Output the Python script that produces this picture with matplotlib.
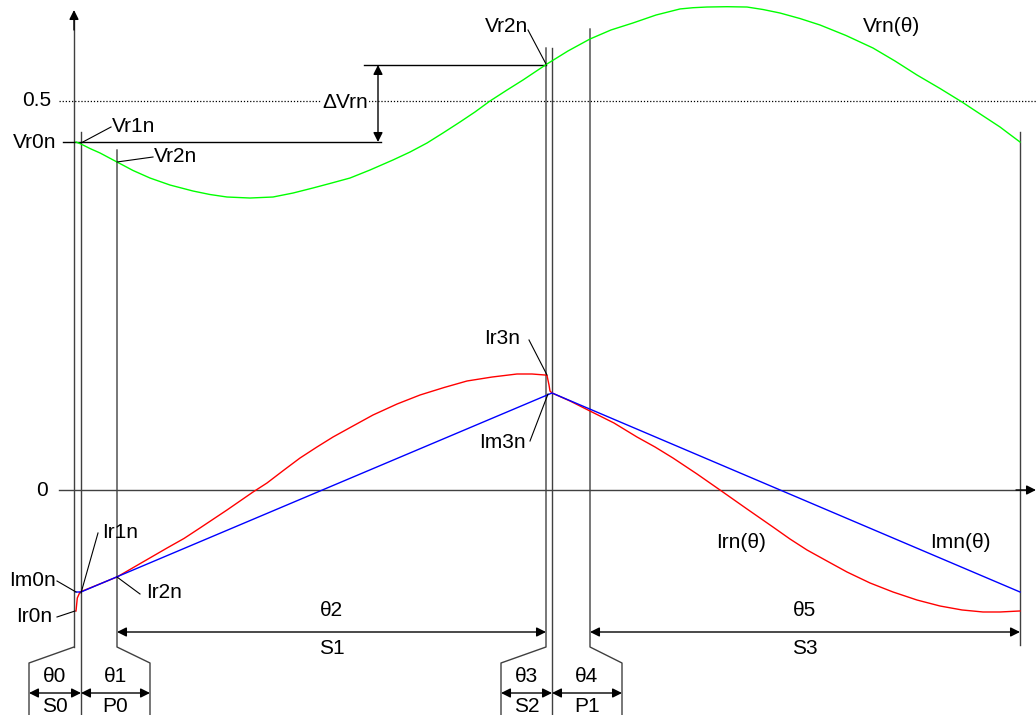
import matplotlib
matplotlib.use('Agg')
import matplotlib.pyplot as plt

plt.rcParams['font.family'] = ['Liberation Sans', 'DejaVu Sans']

# ---------------- data (theta position, per-unit values) ----------------
theta_v = [76, 81, 90, 100, 117, 133, 150, 170, 193, 210, 227, 250, 273, 293,
           313, 330, 350, 370, 393, 410, 427, 443, 460, 475, 490, 507, 523, 535,
           547, 568, 590, 611, 633, 656, 680, 693, 707, 727, 747, 763, 780, 800,
           820, 846, 873, 895, 917, 940, 962, 981, 1000, 1010, 1020]
vrn = [0.4473, 0.4447, 0.4389, 0.4332, 0.4216, 0.4107, 0.4010, 0.3920, 0.3843,
       0.3798, 0.3766, 0.3753, 0.3766, 0.3817, 0.3882, 0.3940, 0.4010, 0.4113,
       0.4242, 0.4344, 0.4460, 0.4589, 0.4730, 0.4859, 0.5000, 0.5141, 0.5270,
       0.5373, 0.5476, 0.5643, 0.5797, 0.5913, 0.6003, 0.6105, 0.6183, 0.6199,
       0.6208, 0.6212, 0.6208, 0.6176, 0.6131, 0.6060, 0.5977, 0.5842, 0.5681,
       0.5514, 0.5334, 0.5161, 0.4987, 0.4826, 0.4666, 0.4569, 0.4473]

theta_r = [76, 77.3, 80, 117, 142, 167, 184, 200, 227, 253, 267, 284, 300, 317,
           333, 353, 373, 397, 420, 444, 467, 492, 517, 532, 545, 547, 549, 550,
           552, 570, 590, 614, 637, 655, 673, 697, 720, 747, 773, 790, 807, 827,
           847, 870, 893, 917, 940, 962, 983, 1000, 1020]
irn = [-0.1555, -0.1388, -0.1311, -0.1118, -0.0932, -0.0746, -0.0623, -0.0488,
       -0.0257, -0.0026, 0.0090, 0.0257, 0.0411, 0.0553, 0.0681, 0.0823, 0.0964,
       0.1105, 0.1221, 0.1317, 0.1401, 0.1452, 0.1491, 0.1491, 0.1478, 0.1472,
       0.1350, 0.1272, 0.1247, 0.1144, 0.1015, 0.0861, 0.0681, 0.0553, 0.0411,
       0.0206, 0.0, -0.0244, -0.0476, -0.0630, -0.0771, -0.0913, -0.1054,
       -0.1195, -0.1311, -0.1414, -0.1491, -0.1542, -0.1568, -0.1568, -0.1555]

theta_m = [76, 81, 552, 1020]
imn = [-0.1311, -0.1311, 0.1247, -0.1311]

vr0n = 0.4473
vr_half = 0.5
vr2n_level = 0.5463

# theta boundaries
th_s0 = 74      # start S0 (vertical axis)
th_p0 = 81      # S0 / P0
th_s1 = 117     # P0 / S1
th_s2 = 546     # S1 / S2
th_p1 = 552     # S2 / P1
th_s3 = 590     # P1 / S3
th_end = 1020   # end S3

# ---------------- figure ----------------
W, H = 1036, 715
fig = plt.figure(figsize=(W / 100, H / 100), dpi=100)
ax = fig.add_axes([0, 0, 1, 1])
ax.set_xlim(0, W)


def Y(p):
    """layout helper: pixel row -> value units"""
    return (490 - p) / 778


ax.set_ylim(Y(H), Y(0))
ax.axis('off')

GRAY = '#404040'
FS = 15
LW = 1.0

# dotted 0.5 line
ax.plot([59, W], [vr_half, vr_half], color='black', lw=0.9, ls=(0, (1, 1.5)))

# axes lines with arrows
ax.plot([th_s0, th_s0], [Y(647), Y(20)], color=GRAY, lw=LW)
ax.annotate('', xy=(th_s0, Y(10)), xytext=(th_s0, Y(30)),
            arrowprops=dict(arrowstyle='-|>', color='black', lw=LW,
                            mutation_scale=14, shrinkA=0, shrinkB=0))
ax.plot([59, 1026], [0, 0], color=GRAY, lw=LW)
ax.annotate('', xy=(1036, 0), xytext=(1016, 0),
            arrowprops=dict(arrowstyle='-|>', color='black', lw=LW,
                            mutation_scale=14, shrinkA=0, shrinkB=0))

# vertical boundary lines (with bracket bends at bottom)
def vline(x, top, bend_to=None):
    if bend_to is None:
        ax.plot([x, x], [Y(top), Y(H)], color=GRAY, lw=LW)
    else:
        ax.plot([x, x, bend_to, bend_to], [Y(top), Y(647), Y(663), Y(H)],
                color=GRAY, lw=LW)

ax.plot([th_s0, 29, 29], [Y(647), Y(663), Y(H)], color=GRAY, lw=LW)
vline(th_p0, 132)
vline(th_s1, 150, 150)
vline(th_s2, 48, 501)
vline(th_p1, 48)
vline(th_s3, 29, 622)
ax.plot([th_end, th_end], [Y(132), Y(645)], color=GRAY, lw=LW)

# Vr0n level line and delta-Vrn dimension
ax.plot([63, 381], [vr0n, vr0n], color='black', lw=LW)
ax.plot([364, th_s2], [vr2n_level, vr2n_level], color='black', lw=LW)
ax.annotate('', xy=(378, vr0n), xytext=(378, vr2n_level),
            arrowprops=dict(arrowstyle='<|-|>', color='black', lw=LW,
                            mutation_scale=14, shrinkA=0, shrinkB=0))
ax.text(345, Y(102), 'ΔVrn', fontsize=FS, ha='center', va='center',
        bbox=dict(facecolor='white', edgecolor='none', pad=0.5))

# curves
ax.plot(theta_v, vrn, color='#00ff00', lw=1.0)
ax.plot(theta_r, irn, color='#ff0000', lw=1.0)
ax.plot(theta_m, imn, color='#0000ff', lw=1.0)

# y labels
ax.text(51, vr_half, '0.5', fontsize=FS, ha='right', va='center')
ax.text(56, vr0n, 'Vr0n', fontsize=FS, ha='right', va='center')
ax.text(48, 0, '0', fontsize=FS, ha='right', va='center')

# leader labels
def leader(text, tx, ty, lx, ly, px, py, ha='left'):
    ax.plot([lx, px], [Y(ly), Y(py)], color='black', lw=0.8)
    ax.text(tx, Y(ty), text, fontsize=FS, ha=ha, va='center')

leader('Vr1n', 112, 126, 111, 127, 81, 143)
leader('Vr2n', 154, 156, 153, 157, 117, 162)
leader('Vr2n', 528, 27, 528, 30, 546, 64, ha='right')
leader('Ir3n', 520, 338, 529, 340, 547, 375, ha='right')
leader('Im3n', 526, 443, 530, 441, 548, 394, ha='right')
leader('Ir1n', 102, 533, 98, 533, 81, 593)
leader('Im0n', 56, 581, 57, 581, 76, 592, ha='right')
leader('Ir0n', 52, 617, 57, 617, 75, 611, ha='right')
leader('Ir2n', 146, 593, 140, 594, 117, 577)

ax.text(892, Y(26), 'Vrn(θ)', fontsize=FS, ha='center', va='center')
ax.text(741, Y(542), 'Irn(θ)', fontsize=FS, ha='center', va='center')
ax.text(960, Y(542), 'Imn(θ)', fontsize=FS, ha='center', va='center')

# dimension arrows
def dim(x0, x1, py, top, bottom, ty=None, by=None):
    ax.annotate('', xy=(x1, Y(py)), xytext=(x0, Y(py)),
                arrowprops=dict(arrowstyle='<|-|>', color='black', lw=LW,
                                mutation_scale=14, shrinkA=0, shrinkB=0))
    xc = (x0 + x1) / 2
    ax.text(xc, Y(ty), top, fontsize=FS, ha='center', va='center')
    ax.text(xc, Y(by), bottom, fontsize=FS, ha='center', va='center')

dim(th_s1, th_s2, 632, 'θ2', 'S1', 611, 649)
dim(th_s3, th_end, 632, 'θ5', 'S3', 611, 649)
dim(29, th_p0, 693, 'θ0', 'S0', 677, 706)
dim(th_p0, 150, 693, 'θ1', 'P0', 677, 706)
dim(501, th_p1, 693, 'θ3', 'S2', 677, 706)
dim(th_p1, 622, 693, 'θ4', 'P1', 677, 706)

fig.savefig('out.png', dpi=100)
